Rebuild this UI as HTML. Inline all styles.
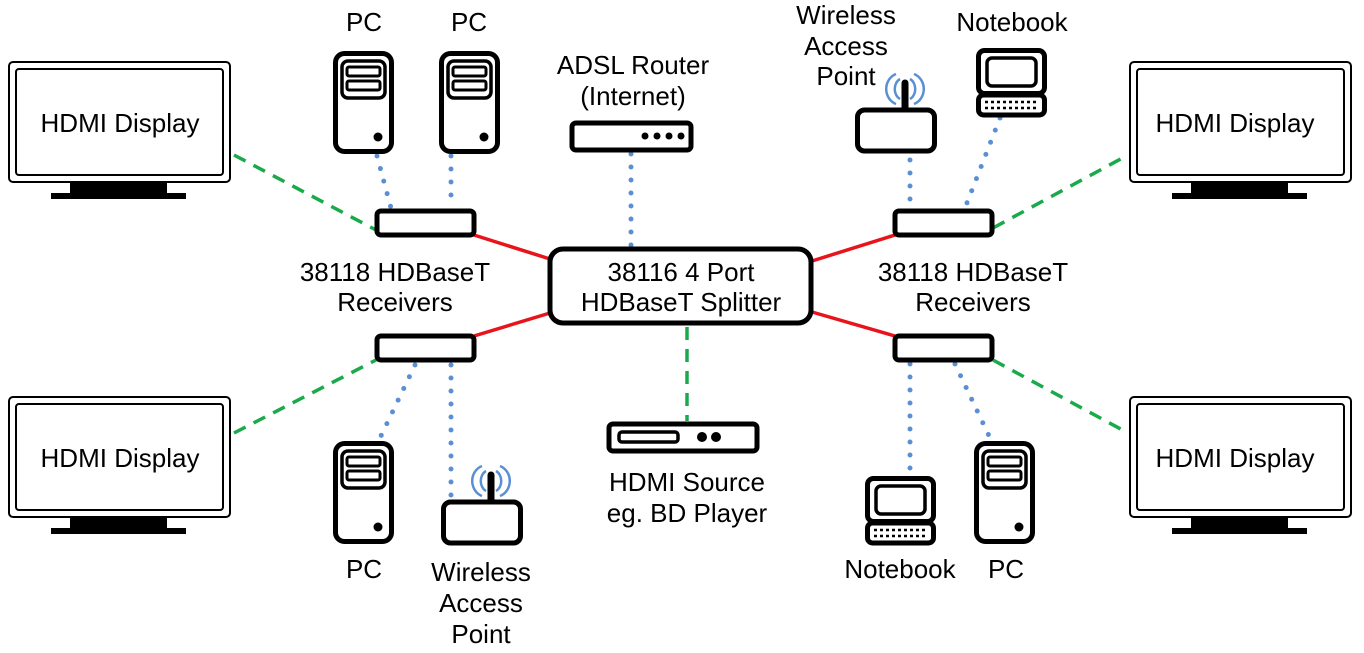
<!DOCTYPE html>
<html><head><meta charset="utf-8"><style>
html,body{margin:0;padding:0;background:#fff;}
svg{display:block;}
text{font-family:"Liberation Sans",Arial,sans-serif;font-size:26px;fill:#000;text-anchor:middle;}
</style></head><body>
<svg width="1364" height="653" viewBox="0 0 1364 653" xmlns="http://www.w3.org/2000/svg">
<defs>
<g id="disp">
  <rect x="9" y="62" width="221" height="120" rx="4" fill="#fff" stroke="#000" stroke-width="2"/>
  <rect x="16" y="69" width="207" height="106" rx="3" fill="none" stroke="#000" stroke-width="2"/>
  <rect x="70" y="182" width="97" height="11" fill="#000"/>
  <rect x="51" y="193" width="135" height="6" fill="#000"/>
</g>
<g id="pc">
  <rect x="2.5" y="2.5" width="56" height="98" rx="9" fill="#fff" stroke="#000" stroke-width="5"/>
  <rect x="9" y="10" width="43" height="37" rx="6" fill="none" stroke="#000" stroke-width="3.5"/>
  <rect x="14" y="16" width="33" height="9" rx="2" fill="none" stroke="#000" stroke-width="3"/>
  <rect x="14" y="30" width="33" height="9" rx="2" fill="none" stroke="#000" stroke-width="3"/>
  <circle cx="45" cy="86" r="4.5" fill="#000"/>
</g>
<g id="nb">
  <rect x="2.5" y="2.5" width="66" height="43" rx="6" fill="#fff" stroke="#000" stroke-width="5"/>
  <rect x="11" y="10" width="49" height="28" rx="5" fill="none" stroke="#000" stroke-width="3.5"/>
  <rect x="2.5" y="47" width="66" height="20" rx="5" fill="#fff" stroke="#000" stroke-width="5"/>
  <line x1="9" y1="54" x2="62" y2="54" stroke="#000" stroke-width="2.5" stroke-dasharray="3 3"/>
  <line x1="9" y1="60" x2="62" y2="60" stroke="#000" stroke-width="2.5" stroke-dasharray="3 3"/>
</g>
<g id="ap">
  <path d="M45 0 A9 11 0 0 0 45 20 M55 0 A9 11 0 0 1 55 20" fill="none" stroke="#5b8fd4" stroke-width="2.5"/>
  <path d="M41 -5 A15 16 0 0 0 41 25 M59 -5 A15 16 0 0 1 59 25" fill="none" stroke="#5b8fd4" stroke-width="2.5"/>
  <line x1="50" y1="4" x2="50" y2="32" stroke="#000" stroke-width="7" stroke-linecap="round"/>
  <rect x="2.5" y="31" width="77" height="41" rx="7" fill="#fff" stroke="#000" stroke-width="5"/>
</g>
</defs>

<g stroke="#e8131b" stroke-width="3.5">
  <line x1="474" y1="235" x2="550" y2="259"/>
  <line x1="474" y1="336" x2="550" y2="313"/>
  <line x1="895" y1="235" x2="812" y2="261"/>
  <line x1="895" y1="336" x2="812" y2="312"/>
</g>
<g stroke="#1aaa4b" stroke-width="3.5" stroke-dasharray="13 9" fill="none">
  <line x1="234" y1="155" x2="376" y2="230"/>
  <line x1="234" y1="433" x2="376" y2="360"/>
  <line x1="993" y1="228" x2="1128" y2="155"/>
  <line x1="993" y1="360" x2="1128" y2="433"/>
  <line x1="687" y1="327" x2="687" y2="421"/>
</g>
<g stroke="#5b8fd4" stroke-width="5" stroke-linecap="round" stroke-dasharray="0 13" fill="none">
  <line x1="377" y1="156" x2="391" y2="208"/>
  <line x1="451" y1="156" x2="451" y2="208"/>
  <line x1="631" y1="154" x2="631" y2="246"/>
  <line x1="415" y1="365" x2="379" y2="440"/>
  <line x1="451" y1="365" x2="451" y2="500"/>
  <line x1="910" y1="160" x2="910" y2="208"/>
  <line x1="1000" y1="118" x2="965" y2="208"/>
  <line x1="910" y1="364" x2="910" y2="470"/>
  <line x1="955" y1="364" x2="990" y2="438"/>
</g>

<use href="#disp"/>
<use href="#disp" y="335"/>
<use href="#disp" x="1121"/>
<use href="#disp" x="1121" y="335"/>
<text x="120" y="132">HDMI Display</text>
<text x="120" y="467">HDMI Display</text>
<text x="1235" y="132">HDMI Display</text>
<text x="1235" y="467">HDMI Display</text>

<g fill="#fff" stroke="#000" stroke-width="5">
  <rect x="377" y="211" width="97" height="24" rx="4"/>
  <rect x="377" y="336" width="97" height="24" rx="4"/>
  <rect x="895" y="211" width="97" height="24" rx="4"/>
  <rect x="895" y="336" width="97" height="24" rx="4"/>
  <rect x="550" y="249" width="261" height="74" rx="13"/>
  <rect x="572" y="123" width="119" height="27" rx="4"/>
  <rect x="609" y="424" width="148" height="27" rx="4"/>
</g>
<rect x="619" y="432" width="59" height="10" rx="3" fill="none" stroke="#000" stroke-width="3.5"/>
<circle cx="702" cy="437" r="5" fill="#000"/><circle cx="716" cy="437" r="5" fill="#000"/>
<g fill="#000"><circle cx="645" cy="136" r="3.5"/><circle cx="657" cy="136" r="3.5"/><circle cx="669" cy="136" r="3.5"/><circle cx="681" cy="136" r="3.5"/></g>

<text x="681" y="281">38116 4 Port</text>
<text x="681" y="311">HDBaseT Splitter</text>
<text x="395" y="281">38118 HDBaseT</text>
<text x="395" y="311">Receivers</text>
<text x="973" y="281">38118 HDBaseT</text>
<text x="973" y="311">Receivers</text>
<text x="633" y="74">ADSL Router</text>
<text x="633" y="105">(Internet)</text>
<text x="687" y="491">HDMI Source</text>
<text x="687" y="522">eg. BD Player</text>

<use href="#pc" x="333" y="51"/>
<use href="#pc" x="439" y="51"/>
<use href="#pc" x="333" y="441"/>
<use href="#pc" x="974" y="441"/>
<text x="364" y="31">PC</text>
<text x="469" y="31">PC</text>
<text x="364" y="578">PC</text>
<text x="1006" y="578">PC</text>

<use href="#ap" x="855" y="79"/>
<use href="#ap" x="441" y="471"/>
<text x="846" y="24">Wireless</text>
<text x="846" y="55">Access</text>
<text x="846" y="85">Point</text>
<text x="481" y="581">Wireless</text>
<text x="481" y="612">Access</text>
<text x="481" y="643">Point</text>

<use href="#nb" x="976" y="48"/>
<use href="#nb" x="865" y="476"/>
<text x="1012" y="31">Notebook</text>
<text x="900" y="578">Notebook</text>
</svg>
</body></html>
